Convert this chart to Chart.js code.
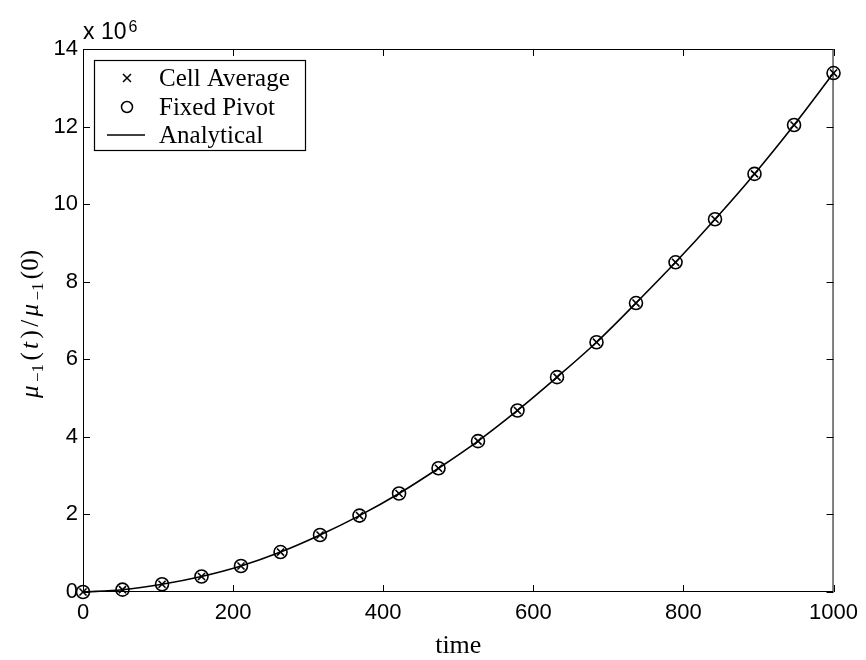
<!DOCTYPE html>
<html>
<head>
<meta charset="utf-8">
<script src="https://cdn.jsdelivr.net/npm/chart.js@4.4.1/dist/chart.umd.min.js"></script>
<style>
  html,body{margin:0;padding:0;background:#fff;}
  #wrap{width:866px;height:660px;position:relative;}
</style>
</head>
<body>
<div id="wrap"><canvas id="c" width="866" height="660"></canvas></div>
<script>
// ---- data (values in units of 1e6) ----
const times = [0, 52.6, 105.3, 157.9, 210.5, 263.2, 315.8, 368.4, 421.1, 473.7, 526.3, 578.9, 631.6, 684.2, 736.8, 789.5, 842.1, 894.7, 947.4, 1000];
const cellAverage = [0, 0.06, 0.2, 0.4, 0.67, 1.03, 1.47, 1.97, 2.54, 3.19, 3.89, 4.68, 5.54, 6.44, 7.45, 8.5, 9.61, 10.78, 12.04, 13.38];
const fixedPivot  = [0, 0.06, 0.2, 0.4, 0.67, 1.03, 1.47, 1.97, 2.54, 3.19, 3.89, 4.68, 5.54, 6.44, 7.45, 8.5, 9.61, 10.78, 12.04, 13.38];
const analytical  = [0, 0.06, 0.2, 0.4, 0.67, 1.03, 1.47, 1.97, 2.54, 3.19, 3.89, 4.68, 5.54, 6.44, 7.45, 8.5, 9.61, 10.78, 12.04, 13.38];
const seriesLabels = ["Cell Average", "Fixed Pivot", "Analytical"];
const xTicks = [0, 200, 400, 600, 800, 1000];
const yTicks = [0, 2, 4, 6, 8, 10, 12, 14];
const xTitle = "time";

const toXY = (xs, ys) => xs.map((x, i) => ({x: x, y: ys[i]}));

const SANS = "'Liberation Sans', Arial, Helvetica, sans-serif";
const SERIF = "'Liberation Serif', 'Times New Roman', serif";

const decorPlugin = {
  id: 'decor',
  afterDraw(chart) {
    const ctx = chart.ctx;
    const a = chart.chartArea;
    const xs = chart.scales.x, ys = chart.scales.y;
    ctx.save();
    // box
    ctx.strokeStyle = '#000';
    ctx.lineWidth = 1;
    ctx.strokeRect(a.left + 0.5, a.top + 0.5, a.right - a.left - 1, a.bottom - a.top - 1);
    // inward ticks
    const tl = 7;
    ctx.beginPath();
    xTicks.forEach(v => {
      const px = Math.round(xs.getPixelForValue(v)) + 0.5;
      ctx.moveTo(px, a.bottom); ctx.lineTo(px, a.bottom - tl);
      ctx.moveTo(px, a.top); ctx.lineTo(px, a.top + tl);
    });
    yTicks.forEach(v => {
      const py = Math.round(ys.getPixelForValue(v)) + 0.5;
      ctx.moveTo(a.left, py); ctx.lineTo(a.left + tl, py);
      ctx.moveTo(a.right, py); ctx.lineTo(a.right - tl, py);
    });
    ctx.stroke();

    // exponent label
    ctx.fillStyle = '#000';
    ctx.textBaseline = 'alphabetic';
    ctx.textAlign = 'left';
    ctx.font = '23px ' + SANS;
    ctx.fillText('x 10', a.left, 39);
    const w10 = ctx.measureText('x 10').width;
    ctx.font = '16px ' + SANS;
    ctx.fillText('6', a.left + w10 + 2, 32);

    // x title
    ctx.font = '26px ' + SERIF;
    ctx.textAlign = 'center';
    ctx.textBaseline = 'middle';
    ctx.fillText(xTitle, (a.left + a.right) / 2, 646);

    // y title (math)
    const parts = [
      {t: 'μ', f: 'italic 25px ' + SERIF, dy: 0},
      {t: '−1', f: '17px ' + SERIF, dy: 5},
      {t: '(', f: '25px ' + SERIF, dy: 0},
      {t: 't', f: 'italic 25px ' + SERIF, dy: 0},
      {t: ')', f: '25px ' + SERIF, dy: 0},
      {t: '/', f: '25px ' + SERIF, dy: 0},
      {t: 'μ', f: 'italic 25px ' + SERIF, dy: 0},
      {t: '−1', f: '17px ' + SERIF, dy: 5},
      {t: '(0)', f: '25px ' + SERIF, dy: 0}
    ];
    let total = 0;
    parts.forEach(p => { ctx.font = p.f; p.w = ctx.measureText(p.t).width; total += p.w; });
    const gap = Math.max(0, (148 - total) / (parts.length - 1));
    const full = total + gap * (parts.length - 1);
    ctx.translate(38, 324);
    ctx.rotate(-Math.PI / 2);
    ctx.textAlign = 'left';
    ctx.textBaseline = 'alphabetic';
    let cx = -full / 2;
    parts.forEach(p => { ctx.font = p.f; ctx.fillText(p.t, cx, p.dy); cx += p.w + gap; });
    ctx.setTransform(1, 0, 0, 1, 0, 0);

    // legend
    const L = {x: 94, y: 60, w: 211, h: 90};
    ctx.fillStyle = '#fff';
    ctx.fillRect(L.x, L.y, L.w, L.h);
    ctx.strokeStyle = '#000';
    ctx.lineWidth = 1.2;
    ctx.strokeRect(L.x + 0.5, L.y + 0.5, L.w, L.h);
    const rows = [78, 107, 135];
    const mx = 127;
    ctx.lineWidth = 1.5;
    ctx.beginPath();
    const s = 4;
    ctx.moveTo(mx - s, rows[0] - s); ctx.lineTo(mx + s, rows[0] + s);
    ctx.moveTo(mx - s, rows[0] + s); ctx.lineTo(mx + s, rows[0] - s);
    ctx.stroke();
    ctx.beginPath();
    ctx.arc(mx, rows[1], 5.5, 0, Math.PI * 2);
    ctx.stroke();
    ctx.beginPath();
    ctx.moveTo(107, rows[2]); ctx.lineTo(145, rows[2]);
    ctx.stroke();
    ctx.fillStyle = '#000';
    ctx.font = '25px ' + SERIF;
    ctx.textAlign = 'left';
    ctx.textBaseline = 'middle';
    seriesLabels.forEach((lab, i) => ctx.fillText(lab, 159, rows[i] + 1));
    ctx.restore();
  }
};

new Chart(document.getElementById('c'), {
  type: 'scatter',
  data: {
    datasets: [
      {
        label: seriesLabels[2],
        data: toXY(times, analytical),
        showLine: true,
        borderColor: '#000',
        borderWidth: 1.6,
        pointRadius: 0,
        cubicInterpolationMode: 'monotone',
        clip: false,
        order: 3
      },
      {
        label: seriesLabels[0],
        data: toXY(times, cellAverage),
        showLine: false,
        pointStyle: 'crossRot',
        pointRadius: 5,
        pointBorderWidth: 1.6,
        pointBorderColor: '#000',
        pointBackgroundColor: '#000',
        clip: false,
        order: 2
      },
      {
        label: seriesLabels[1],
        data: toXY(times, fixedPivot),
        showLine: false,
        pointStyle: 'circle',
        pointRadius: 6.5,
        pointBorderWidth: 1.6,
        pointBorderColor: '#000',
        pointBackgroundColor: 'rgba(0,0,0,0)',
        clip: false,
        order: 1
      }
    ]
  },
  options: {
    responsive: false,
    animation: false,
    events: [],
    layout: {padding: {left: 0, right: 32, top: 49, bottom: 0}},
    plugins: {legend: {display: false}, tooltip: {enabled: false}},
    scales: {
      x: {
        type: 'linear', min: 0, max: 1000,
        afterFit: s => { s.height = 68; },
        afterBuildTicks: s => { s.ticks = xTicks.map(v => ({value: v})); },
        grid: {display: false, drawTicks: false},
        border: {display: false},
        ticks: {color: '#000', font: {family: SANS, size: 22}, padding: 8, maxRotation: 0, autoSkip: false,
                callback: v => String(v)}
      },
      y: {
        type: 'linear', min: 0, max: 14,
        afterFit: s => { s.width = 83; },
        afterBuildTicks: s => { s.ticks = yTicks.map(v => ({value: v})); },
        grid: {display: false, drawTicks: false},
        border: {display: false},
        ticks: {color: '#000', font: {family: SANS, size: 22}, padding: 5, autoSkip: false,
                callback: v => String(v)}
      }
    }
  },
  plugins: [decorPlugin]
});
</script>
</body>
</html>
